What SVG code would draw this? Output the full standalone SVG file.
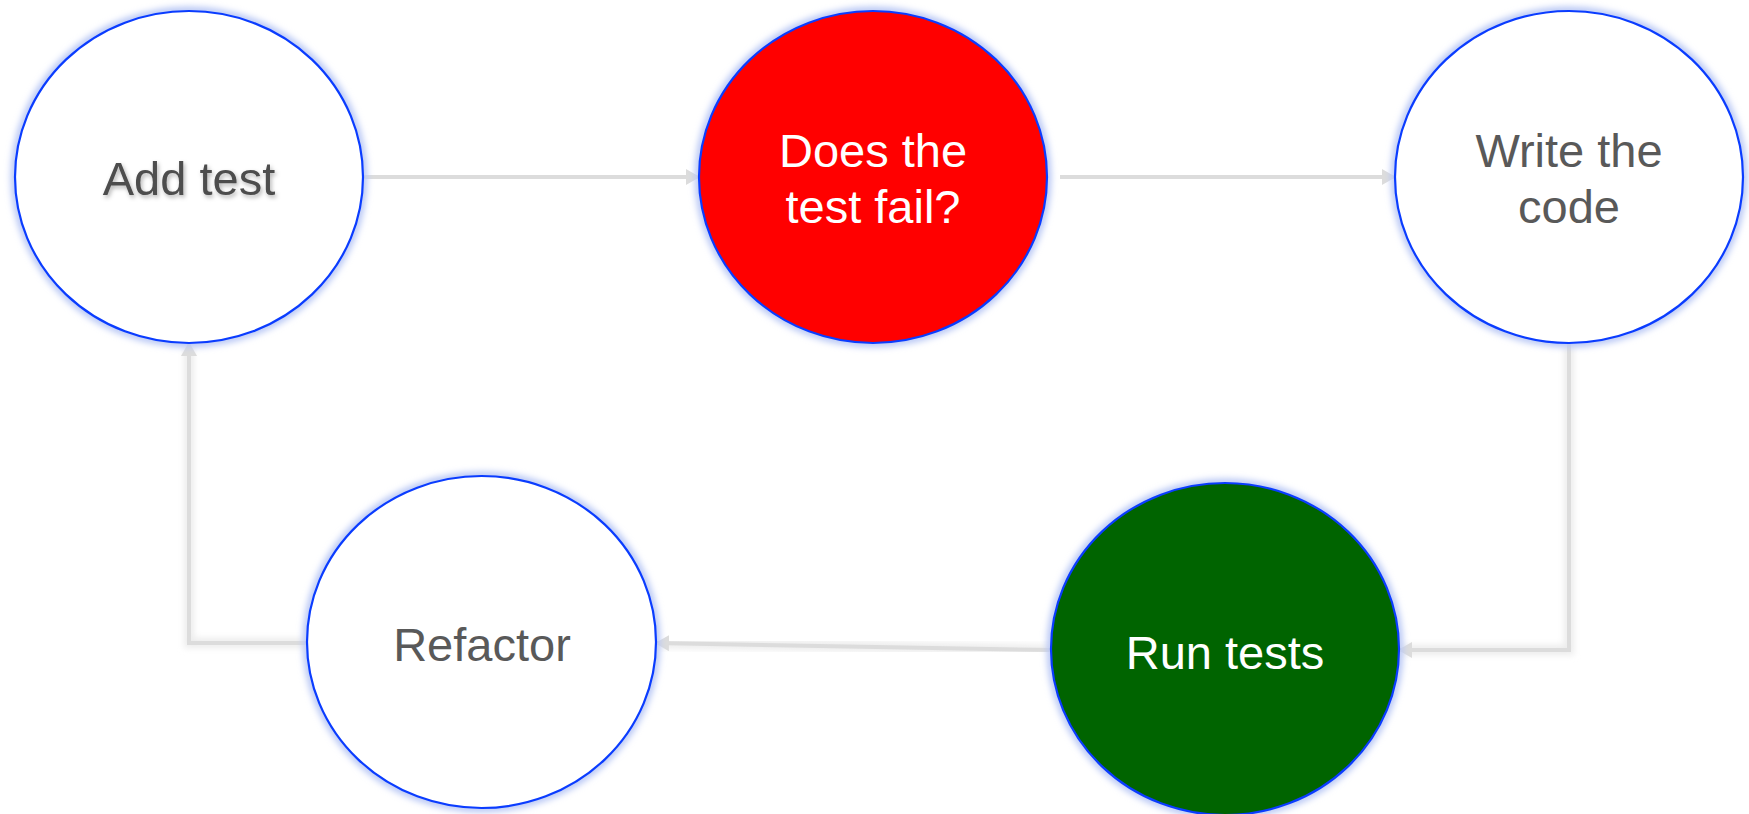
<svg xmlns="http://www.w3.org/2000/svg" width="1749" height="814" viewBox="0 0 1749 814">
  <style>
    .glow { fill: none; stroke: #b9c8f5; stroke-width: 9; filter: url(#blur); }
    .ring { stroke: #0a3cff; stroke-width: 2.2; }
    .lbl { font-family: "Liberation Sans", Arial, sans-serif; font-size: 47px; text-anchor: middle; }
    .dark { fill: #595959; }
    .light { fill: #ffffff; }
    .conn { fill: none; stroke: #dcdcdc; stroke-width: 4; }
    .connShadow { fill: none; stroke: #ececec; stroke-width: 10; filter: url(#blur); }
  </style>
  <defs>
    <filter id="blur" x="-20%" y="-20%" width="140%" height="140%">
      <feGaussianBlur stdDeviation="3"/>
    </filter>
    <filter id="tshadow" x="-10%" y="-30%" width="120%" height="160%">
      <feDropShadow dx="1.5" dy="2.5" stdDeviation="2" flood-color="#000000" flood-opacity="0.3"/>
    </filter>
    <marker id="arrow" viewBox="0 0 14 16" refX="13" refY="8" markerWidth="14" markerHeight="16" markerUnits="userSpaceOnUse" orient="auto">
      <path d="M0,0 L14,8 L0,16 Z" fill="#dcdcdc"/>
    </marker>
  </defs>
  <rect width="1749" height="814" fill="#ffffff"/>

  <g id="connectors">
    <path class="connShadow" d="M363,177 H699"/>
    <path class="connShadow" d="M1060,177 H1395"/>
    <path class="connShadow" d="M1569,343 V650 H1399"/>
    <path class="connShadow" d="M1051,650 L656,643"/>
    <path class="connShadow" d="M307,643 H189 V343"/>
    <path class="conn" d="M363,177 H699" marker-end="url(#arrow)"/>
    <path class="conn" d="M1060,177 H1395" marker-end="url(#arrow)"/>
    <path class="conn" d="M1569,343 V650 H1399" marker-end="url(#arrow)"/>
    <path class="conn" d="M1051,650 L656,643" marker-end="url(#arrow)"/>
    <path class="conn" d="M307,643 H189 V343" marker-end="url(#arrow)"/>
  </g>

  <g id="node-add-test">
    <ellipse class="glow" cx="189" cy="177" rx="174" ry="166"/>
    <ellipse class="ring" cx="189" cy="177" rx="174" ry="166" fill="#ffffff"/>
    <text class="lbl" x="189" y="195" fill="#4d4d4d" filter="url(#tshadow)">Add test</text>
  </g>

  <g id="node-does-test-fail">
    <ellipse class="glow" cx="873" cy="177" rx="174" ry="166"/>
    <ellipse class="ring" cx="873" cy="177" rx="174" ry="166" fill="#ff0000"/>
    <text class="lbl light" x="873" y="167">Does the</text>
    <text class="lbl light" x="873" y="223">test fail?</text>
  </g>

  <g id="node-write-code">
    <ellipse class="glow" cx="1569" cy="177" rx="174" ry="166"/>
    <ellipse class="ring" cx="1569" cy="177" rx="174" ry="166" fill="#ffffff"/>
    <text class="lbl dark" x="1569" y="167">Write the</text>
    <text class="lbl dark" x="1569" y="223">code</text>
  </g>

  <g id="node-run-tests">
    <ellipse class="glow" cx="1225" cy="649" rx="174" ry="166"/>
    <ellipse class="ring" cx="1225" cy="649" rx="174" ry="166" fill="#006400"/>
    <text class="lbl light" x="1225" y="669">Run tests</text>
  </g>

  <g id="node-refactor">
    <ellipse class="glow" cx="481.5" cy="642" rx="174.5" ry="166"/>
    <ellipse class="ring" cx="481.5" cy="642" rx="174.5" ry="166" fill="#ffffff"/>
    <text class="lbl dark" x="482" y="661">Refactor</text>
  </g>
</svg>
